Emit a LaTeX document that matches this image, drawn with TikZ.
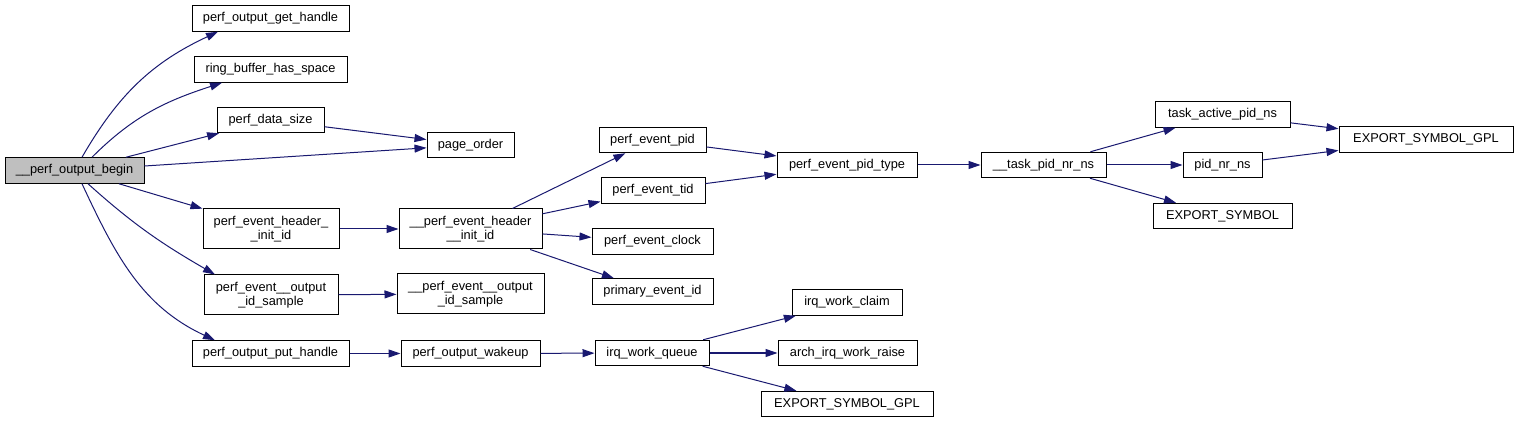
\documentclass[tikz,border=0pt]{standalone}
\usepackage{fontspec}
\setmainfont{Liberation Sans}
\usetikzlibrary{arrows.meta}
\definecolor{edgeblue}{HTML}{191970}

\begin{document}
\begin{tikzpicture}[x=1pt, y=1pt,
  fn/.style={draw=black, line width=1pt, fill=white, inner sep=0pt,
    minimum height=25.5, align=center, font=\fontsize{12.8}{14}\selectfont},
  fntwo/.style={fn, minimum height=40},
  call/.style={draw=edgeblue, line width=1pt, -{Triangle[length=12pt,width=8pt]}}]
\useasboundingbox (0,0) rectangle (1517,423);
% Root
\node[fn, fill=black!25, minimum width=139] (begin) at (74.5,252.5) {\_\_perf\_output\_begin};
% Column 1
\node[fn, minimum width=157] (gethandle) at (270.5,404.5) {perf\_output\_get\_handle};
\node[fn, minimum width=153] (ringbuf) at (270.5,353.5) {ring\_buffer\_has\_space};
\node[fn, minimum width=107] (datasize) at (270.5,303) {perf\_data\_size};
\node[fntwo, minimum width=136] (hdrinit) at (271,194) {perf\_event\_header\_\\\_init\_id};
\node[fntwo, minimum width=134] (idsample) at (271,128) {perf\_event\_\_output\\\_id\_sample};
\node[fn, minimum width=157] (puthandle) at (270.5,69.5) {perf\_output\_put\_handle};
% Column 2
\node[fn, minimum width=87] (pageorder) at (470.5,278) {page\_order};
\node[fntwo, minimum width=143] (hdrinit2) at (470.5,194) {\_\_perf\_event\_header\\\_\_init\_id};
\node[fntwo, minimum width=147] (idsample2) at (470.5,129) {\_\_perf\_event\_\_output\\\_id\_sample};
\node[fn, minimum width=139] (wakeup) at (470.5,69.5) {perf\_output\_wakeup};
% Column 3
\node[fn, minimum width=107] (evpid) at (652.5,283) {perf\_event\_pid};
\node[fn, minimum width=104] (evtid) at (653,232.5) {perf\_event\_tid};
\node[fn, minimum width=121] (evclock) at (652.5,181.5) {perf\_event\_clock};
\node[fn, minimum width=121] (primary) at (652.5,131.5) {primary\_event\_id};
\node[fn, minimum width=114] (irqqueue) at (652,70) {irq\_work\_queue};
% Column 4
\node[fn, minimum width=140] (pidtype) at (847,258) {perf\_event\_pid\_type};
\node[fn, minimum width=110] (irqclaim) at (847,120.5) {irq\_work\_claim};
\node[fn, minimum width=139] (archraise) at (847.5,70) {arch\_irq\_work\_raise};
\node[fn, minimum width=172] (gplb) at (847,19) {EXPORT\_SYMBOL\_GPL};
% Column 5
\node[fn, minimum width=125] (tasknr) at (1043.5,258) {\_\_task\_pid\_nr\_ns};
% Column 6
\node[fn, minimum width=135] (taskactive) at (1222.5,308.5) {task\_active\_pid\_ns};
\node[fn, minimum width=79] (pidnr) at (1222.5,258) {pid\_nr\_ns};
\node[fn, minimum width=139] (expsym) at (1222.5,207) {EXPORT\_SYMBOL};
% Column 7
\node[fn, minimum width=174] (gpla) at (1426,283.5) {EXPORT\_SYMBOL\_GPL};
% Calls from the root
\draw[call] ([xshift=7.5]begin.north) to[out=60,in=205] ([xshift=-52.5]gethandle.south);
\draw[call] ([xshift=17.5]begin.north) to[out=45,in=198] ([xshift=-48.5]ringbuf.south);
\draw[call] (begin) -- (datasize);
\draw[call] (begin) -- (pageorder);
\draw[call] (begin) -- (hdrinit);
\draw[call] ([xshift=13.5]begin.south) to[out=-42,in=150] ([xshift=-56]idsample.north);
\draw[call] ([xshift=7.5]begin.south) to[out=-65,in=155] ([xshift=-55.5]puthandle.north);
% Second level
\draw[call] (datasize) -- (pageorder);
\draw[call] (hdrinit) -- (hdrinit2);
\draw[call] (idsample) -- (idsample2);
\draw[call] (puthandle) -- (wakeup);
\draw[call] (hdrinit2) -- (evpid);
\draw[call] (hdrinit2) -- (evtid);
\draw[call] (hdrinit2) -- (evclock);
\draw[call] (hdrinit2) -- (primary);
\draw[call] (wakeup) -- (irqqueue);
% Third level
\draw[call] (evpid) -- (pidtype);
\draw[call] (evtid) -- (pidtype);
\draw[call] (irqqueue) -- (irqclaim);
\draw[call] (irqqueue) -- (archraise);
\draw[call] (irqqueue) -- (gplb);
\draw[call] (pidtype) -- (tasknr);
\draw[call] (tasknr) -- (taskactive);
\draw[call] (tasknr) -- (pidnr);
\draw[call] (tasknr) -- (expsym);
\draw[call] (taskactive) -- (gpla);
\draw[call] (pidnr) -- (gpla);
\end{tikzpicture}
\end{document}
